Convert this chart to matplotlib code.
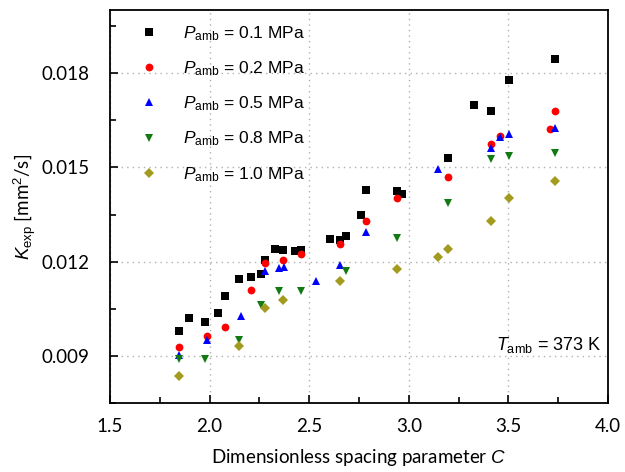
import numpy as np
import matplotlib.pyplot as plt

plt.rcParams['mathtext.fontset'] = 'custom'
plt.rcParams['mathtext.it'] = 'Liberation Sans:italic'
plt.rcParams['mathtext.rm'] = 'Liberation Sans'

# data
c_01 = [1.848, 1.897, 1.977, 2.041, 2.079, 2.148, 2.208, 2.258, 2.28, 2.33, 2.37, 2.43,
        2.459, 2.604, 2.655, 2.685, 2.76, 2.785, 2.941, 2.966, 3.195, 3.329, 3.413, 3.503, 3.734]
k_01 = [0.00979, 0.0102, 0.0101, 0.01036, 0.01091, 0.01146, 0.01152, 0.0116, 0.01206, 0.0124,
        0.01236, 0.01234, 0.01236, 0.01271, 0.01269, 0.01281, 0.0135, 0.01427, 0.01424, 0.01416,
        0.01531, 0.01699, 0.01679, 0.01777, 0.01843]

c_02 = [1.848, 1.985, 2.079, 2.208, 2.28, 2.37, 2.459, 2.655, 2.785, 2.941, 3.195, 3.411,
        3.459, 3.709, 3.734]
k_02 = [0.00928, 0.00963, 0.00992, 0.01111, 0.01195, 0.01206, 0.01224, 0.01256, 0.01329,
        0.01404, 0.01468, 0.01574, 0.01601, 0.01622, 0.0168]

c_05 = [1.848, 1.985, 2.158, 2.28, 2.35, 2.373, 2.534, 2.655, 2.785, 3.148, 3.411, 3.459,
        3.503, 3.734]
k_05 = [0.00905, 0.0095, 0.01026, 0.01172, 0.01181, 0.01183, 0.01139, 0.0119, 0.01294,
        0.01495, 0.01562, 0.01595, 0.01607, 0.01626]

c_08 = [1.848, 1.977, 2.148, 2.258, 2.35, 2.46, 2.685, 2.941, 3.195, 3.413, 3.503, 3.734]
k_08 = [0.0089, 0.00892, 0.0095, 0.01063, 0.01107, 0.01107, 0.01172, 0.01276, 0.01386,
        0.01528, 0.01535, 0.01544]

c_10 = [1.848, 2.148, 2.28, 2.37, 2.655, 2.941, 3.148, 3.195, 3.411, 3.503, 3.734]
k_10 = [0.00837, 0.00932, 0.01053, 0.01079, 0.0114, 0.01178, 0.01214, 0.01242, 0.01329,
        0.01402, 0.01457]

pressures = ['0.1', '0.2', '0.5', '0.8', '1.0']
xticks = [1.5, 2.0, 2.5, 3.0, 3.5, 4.0]
yticks = [0.009, 0.012, 0.015, 0.018]

series = [(c_01, k_01, 's', 'black'),
          (c_02, k_02, 'o', '#ff0000'),
          (c_05, k_05, '^', '#0000ff'),
          (c_08, k_08, 'v', '#127a12'),
          (c_10, k_10, 'D', '#a39b1f')]

fig = plt.figure(figsize=(6.25, 4.72), dpi=100)
ax = fig.add_axes([0.176, 0.1455, 0.797, 0.8333])

for (c, k, m, col), p in zip(series, pressures):
    ms = 4.6 if m == 'D' else 5.6
    ax.plot(c, k, ls='none', marker=m, color=col, ms=ms, mew=0,
            label=r'$P_{\mathrm{amb}}$ = %s MPa' % p)

ax.set_xlim(1.5, 4.0)
ax.set_ylim(0.0075, 0.020)
ax.set_xticks(xticks)
ax.set_xticklabels(['%.1f' % v for v in xticks])
ax.set_yticks(yticks)
ax.set_yticklabels(['%.3f' % v for v in yticks])
ax.set_xticks(np.arange(1.75, 4.0, 0.5), minor=True)
ax.set_yticks([0.0075, 0.0105, 0.0135, 0.0165, 0.0195], minor=True)
ax.tick_params(which='both', direction='in', width=1.2, labelsize=13.5)
ax.tick_params(axis='x', which='major', pad=10.5)
ax.tick_params(axis='y', which='major', pad=14.5)
ax.tick_params(which='major', length=6)
ax.tick_params(which='minor', length=4)
for lab in ax.get_xticklabels() + ax.get_yticklabels():
    lab.set_family('Lato')
for s in ax.spines.values():
    s.set_linewidth(1.3)

ax.grid(True, which='major', ls=(0, (1, 3)), color='#b0b0b0', lw=1)

ax.set_xlabel(r'Dimensionless spacing parameter $\mathit{C}$', family='Lato', fontsize=13.5,
              labelpad=9)
ax.set_ylabel(r'$\mathit{K}_{\mathrm{exp}}$ [mm$^2$/s]', family='Lato', fontsize=13.5,
              labelpad=3)

leg = ax.legend(loc='upper left', frameon=False, prop={'family': 'Liberation Sans', 'size': 12.5},
                handletextpad=0.95, labelspacing=0.95, borderaxespad=0.3,
                bbox_to_anchor=(0.02, 0.995), handlelength=2.0)

ax.text(0.775, 0.135, r'$T_{\mathrm{amb}}$ = 373 K', transform=ax.transAxes,
        family='Liberation Sans', fontsize=13)

fig.savefig('out.png', dpi=100)
